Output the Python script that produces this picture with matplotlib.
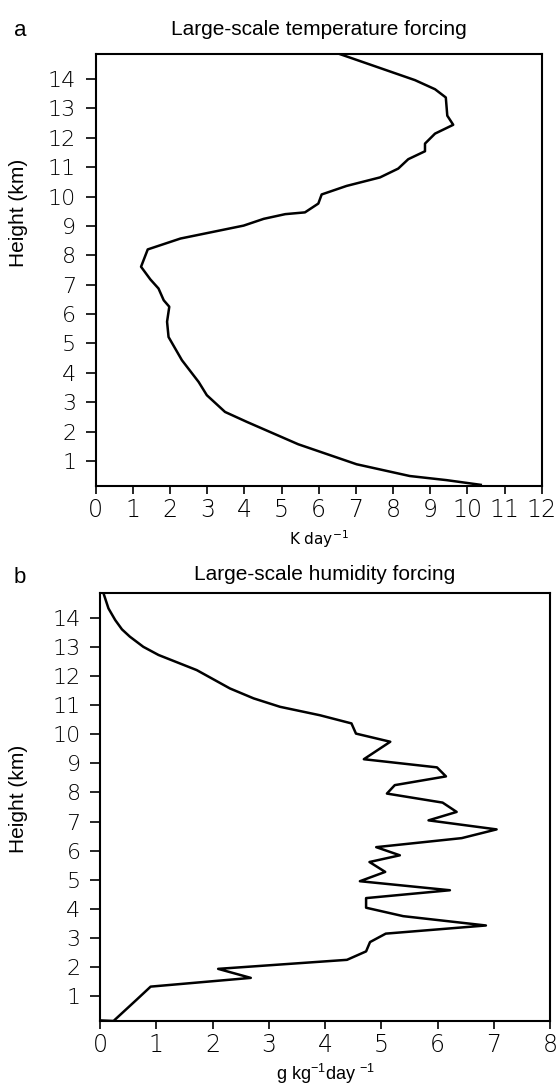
import matplotlib
matplotlib.use("Agg")
import matplotlib.pyplot as plt

# ==== Profile data ====
# panel a: large-scale temperature forcing (K/day) vs height (km)
temp_forcing = [6.56, 8.59, 9.13, 9.42, 9.46, 9.62, 9.13, 8.86, 8.86, 8.41, 8.14,
                7.65, 6.75, 6.08, 5.99, 5.63, 5.10, 4.52, 3.98, 2.28, 1.40, 1.22,
                1.47, 1.69, 1.83, 1.98, 1.92, 1.96, 2.32, 2.77, 2.99, 3.48, 4.07,
                5.45, 7.02, 8.45, 9.44, 10.36]
temp_height = [14.85, 13.96, 13.65, 13.37, 12.75, 12.44, 12.14, 11.80, 11.54, 11.27,
               10.95, 10.65, 10.36, 10.07, 9.76, 9.46, 9.40, 9.24, 9.01, 8.57, 8.20,
               7.61, 7.18, 6.87, 6.47, 6.25, 5.74, 5.22, 4.43, 3.69, 3.24, 2.67,
               2.33, 1.57, 0.89, 0.49, 0.35, 0.19]

# panel b: large-scale humidity forcing (g/kg/day) vs height (km)
hum_forcing = [0.06, 0.15, 0.27, 0.39, 0.53, 0.77, 1.04, 1.72, 2.31, 2.73, 3.20,
               3.91, 4.47, 4.55, 5.16, 4.69, 5.99, 6.15, 5.24, 5.10, 6.09, 6.34,
               5.84, 7.05, 6.43, 4.91, 5.33, 4.79, 5.07, 4.62, 6.22, 4.73, 4.73,
               5.39, 6.86, 5.08, 4.80, 4.73, 4.39, 2.10, 2.68, 0.90, 0.65, 0.24,
               0.00]
hum_height = [14.85, 14.32, 13.92, 13.60, 13.35, 13.00, 12.72, 12.20, 11.57, 11.23,
              10.94, 10.65, 10.37, 10.02, 9.74, 9.14, 8.86, 8.55, 8.25, 7.96, 7.65,
              7.33, 7.04, 6.73, 6.43, 6.12, 5.84, 5.61, 5.27, 4.95, 4.64, 4.37,
              4.04, 3.75, 3.43, 3.15, 2.86, 2.54, 2.25, 1.94, 1.63, 1.33, 0.88,
              0.15, 0.17]

height_ticks = list(range(1, 15))
temp_ticks = list(range(0, 13))
hum_ticks = list(range(0, 9))

NARROW = ["Liberation Sans Narrow", "Liberation Sans", "DejaVu Sans"]
TICKFONT = ["DejaVu Sans"]


def style_axis(ax, xticks, xmax, ylab_x, ylab_y):
    ax.set_xlim(0, xmax)
    ax.set_ylim(0.15, 14.85)
    ax.set_xticks(xticks)
    ax.set_yticks(height_ticks)
    ax.tick_params(axis="x", direction="out", length=5.5, width=1.2,
                   labelsize=17, pad=3)
    ax.tick_params(axis="y", direction="out", length=7, width=1.2,
                   labelsize=16, pad=7)
    for lab in ax.get_xticklabels() + ax.get_yticklabels():
        lab.set_fontfamily(TICKFONT)
        lab.set_fontweight("ultralight")
    for sp in ax.spines.values():
        sp.set_linewidth(1.5)
    ax.set_ylabel("Height (km)", fontsize=15, family=NARROW)
    ax.yaxis.set_label_coords(ylab_x, ylab_y)


fig = plt.figure(figsize=(5.6, 10.88), dpi=100)

# ==== Panel a ====
ax1 = fig.add_axes([0.1709, 0.5533, 0.7964, 0.3971])
ax1.plot(temp_forcing, temp_height, color="black", lw=1.8)
style_axis(ax1, temp_ticks, 12, -0.152, 0.633)
ax1.set_xlabel(r"K day$^{\mathregular{-1}}$", fontsize=11, family="DejaVu Sans",
               labelpad=5)
ax1.set_title("Large-scale temperature forcing", fontsize=15, family=NARROW, pad=14)
fig.text(0.025, 0.982, "a", fontsize=16, family="Liberation Sans", va="top")

# ==== Panel b ====
ax2 = fig.add_axes([0.1786, 0.0616, 0.8036, 0.3934])
ax2.plot(hum_forcing, hum_height, color="black", lw=1.8)
style_axis(ax2, hum_ticks, 8, -0.160, 0.52)
ax2.set_xlabel(r"g kg$^{\mathregular{-1}}$day $^{\mathregular{-1}}$", fontsize=13,
               family=NARROW, labelpad=4)
ax2.set_title("Large-scale humidity forcing", fontsize=15, family=NARROW, pad=9)
fig.text(0.025, 0.479, "b", fontsize=16, family="Liberation Sans", va="top")

fig.savefig("out.png", dpi=100)
